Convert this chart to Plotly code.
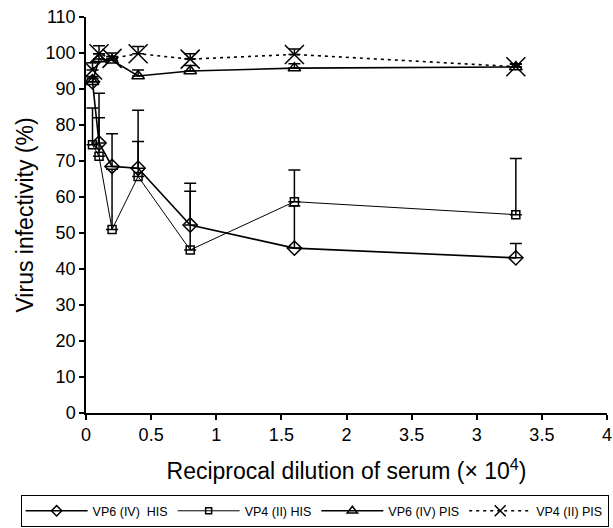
import plotly.graph_objects as go

dilution = [0.05, 0.1, 0.2, 0.4, 0.8, 1.6, 3.3]

vp6_his = [92.0, 75.0, 68.5, 68.0, 52.2, 45.8, 43.1]
vp6_his_err = [1.0, 13.8, 9.1, 16.1, 11.6, 11.7, 4.0]

vp4_his = [74.5, 71.3, 51.0, 65.7, 45.3, 58.7, 55.1]
vp4_his_err = [10.2, 10.7, 16.7, 9.7, 16.3, 8.8, 15.6]

vp6_pis = [92.0, 98.3, 98.0, 93.6, 95.0, 95.8, 96.1]
vp6_pis_err = [1.5, 1.5, 1.0, 1.7, 1.5, 1.2, 0.8]

vp4_pis = [95.3, 99.8, 98.5, 99.8, 98.3, 99.6, 96.2]
vp4_pis_err = [2.0, 2.2, 1.5, 2.0, 1.5, 1.5, 0.8]

x_tickvals = [0, 0.5, 1, 1.5, 2, 2.5, 3, 3.5, 4]
x_ticktext = ["0", "0.5", "1", "1.5", "2", "3.5", "3", "3.5", "4"]
y_tickvals = list(range(0, 111, 10))

names = ["VP6 (IV)  HIS", "VP4 (II) HIS", "VP6 (IV) PIS", "VP4 (II) PIS"]

series = [
    (vp6_his, vp6_his_err, dict(color="black", width=1.6), "diamond-open", 11, 8),
    (vp4_his, vp4_his_err, dict(color="black", width=1), "square-open", 8, 6),
    (vp6_pis, vp6_pis_err, dict(color="black", width=1.6), "triangle-up-open", 11, 9),
    (vp4_pis, vp4_pis_err, dict(color="black", width=1.6, dash="3px,4px"), "x-thin-open", 19, 11),
]


def err(a):
    return dict(type="data", symmetric=False, array=a, arrayminus=[0] * len(a),
                color="black", thickness=1.5, width=6)


fig = go.Figure()
for i, (ys, es, ln, sym, msize, lsize) in enumerate(series):
    fig.add_trace(go.Scatter(x=dilution, y=ys, name=names[i], mode="lines+markers",
                             line=ln, legendgroup=str(i), showlegend=False,
                             marker=dict(symbol=sym, size=msize, color="black",
                                         line=dict(width=1.5, color="black")),
                             error_y=err(es)))
for i, (ys, es, ln, sym, msize, lsize) in enumerate(series):
    fig.add_trace(go.Scatter(x=[None], y=[None], name=names[i], mode="lines+markers",
                             line=ln, legendgroup=str(i), showlegend=True,
                             marker=dict(symbol=sym, size=lsize, color="black",
                                         line=dict(width=1.5, color="black"))))

font = "Liberation Sans, Arial, sans-serif"
fig.update_layout(
    width=613, height=528,
    margin=dict(l=86, r=1, t=17, b=111),
    paper_bgcolor="white", plot_bgcolor="white",
    font=dict(family=font, color="black", size=16),
    showlegend=True,
    legend=dict(orientation="h", x=-0.1255, xanchor="left", y=-0.2075, yanchor="top",
                bordercolor="black", borderwidth=1, font=dict(size=12.5),
                itemwidth=62, tracegroupgap=0),
    xaxis=dict(range=[0, 4], tickvals=x_tickvals, ticktext=x_ticktext,
               showline=True, linecolor="black", linewidth=1.5, ticks="outside",
               tickcolor="black", ticklen=5, tickwidth=1.5, showgrid=False, zeroline=False,
               tickfont=dict(size=18), ticklabeloverflow="allow",
               title=dict(text="Reciprocal dilution of serum (× 10<sup>4</sup>)",
                          font=dict(size=23), standoff=19)),
    yaxis=dict(range=[0, 110], tickvals=y_tickvals,
               showline=True, linecolor="black", linewidth=1.5, ticks="outside",
               tickcolor="black", ticklen=5, tickwidth=1.5, showgrid=False, zeroline=False,
               tickfont=dict(size=18), ticklabeloverflow="allow",
               title=dict(text="Virus infectivity (%)", font=dict(size=23), standoff=6)),
)

fig.write_html("out.html")
